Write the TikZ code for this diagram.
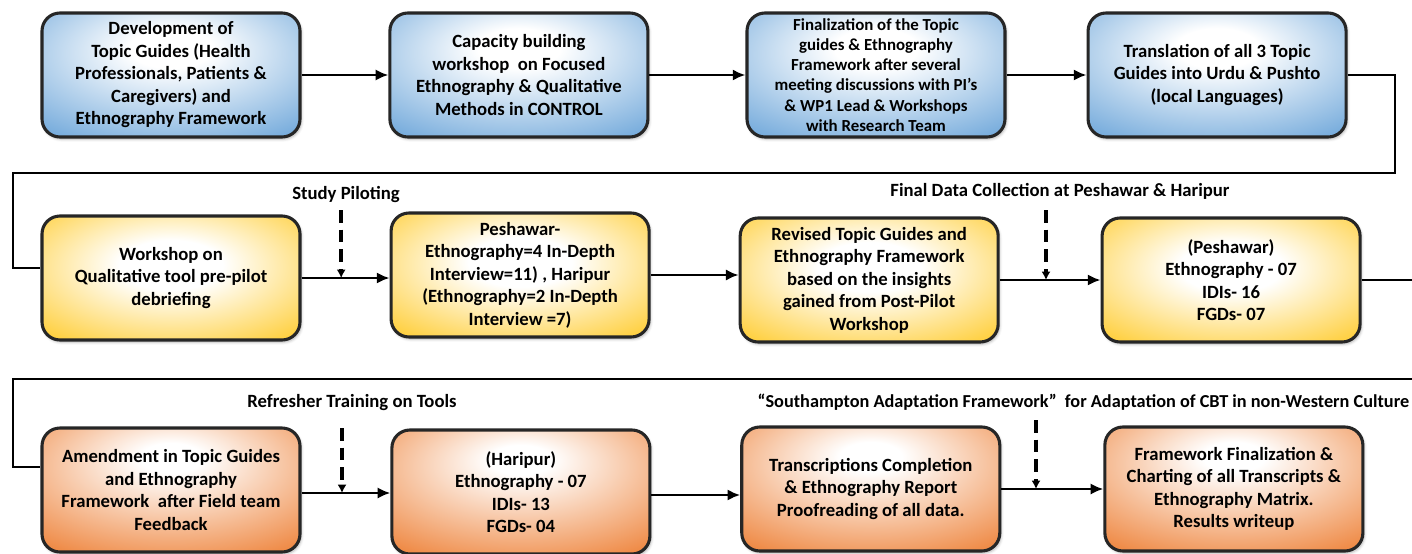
\documentclass[tikz,border=0pt]{standalone}
\usepackage{fontspec}
\setmainfont{Carlito}
\usepackage{tikz}
\usetikzlibrary{arrows.meta, positioning, calc, shadows.blur}
\definecolor{boxblue}{HTML}{5B9BD5}
\definecolor{boxgold}{HTML}{FFC000}
\definecolor{boxorange}{HTML}{ED7D31}
\definecolor{edgegray}{HTML}{262626}
\pgfdeclareradialshading{blueglow}{\pgfpoint{0bp}{12bp}}{color(0bp)=(white); color(8bp)=(white); color(44bp)=(boxblue); color(80bp)=(boxblue)}
\pgfdeclareradialshading{goldglow}{\pgfpoint{0bp}{6bp}}{color(0bp)=(white); color(10bp)=(white); color(44bp)=(boxgold); color(80bp)=(boxgold)}
\pgfdeclareradialshading{orangeglow}{\pgfpoint{0bp}{14bp}}{color(0bp)=(white); color(6bp)=(white); color(42bp)=(boxorange); color(80bp)=(boxorange)}

\begin{document}
\begin{tikzpicture}[
  stepbox/.style={shade, shading=#1, draw=edgegray, line width=2.2pt, rounded corners=0.45cm, minimum width=6.45cm, minimum height=3.1cm, align=center, inner sep=2pt, font=\bfseries\fontsize{13.3}{16}\selectfont, blur shadow={shadow xshift=1pt, shadow yshift=-1.5pt, shadow blur steps=4, shadow opacity=30}},
  link/.style={line width=2pt, color=black},
  arrow/.style={link, -{Latex[length=9pt,width=8pt]}},
  cue/.style={line width=2.6pt, dash pattern=on 9pt off 5pt, -{Latex[length=6pt,width=6.5pt]}},
  note/.style={font=\bfseries\fontsize{13.3}{16}\selectfont, inner sep=1pt}
]
  \useasboundingbox (0,0) rectangle (35.3,-13.825);
  \clip (0,0) rectangle (35.3,-13.825);

  % Row 1 - preparation
  \node[stepbox=blueglow] (dev) at (4.275,-1.875) {Development of\\Topic Guides (Health\\Professionals, Patients \&\\Caregivers) and\\Ethnography Framework};
  \node[stepbox=blueglow, right=2.17cm of dev] (capac) {Capacity building\\workshop\ \ on Focused\\Ethnography \& Qualitative\\Methods in CONTROL};
  \node[stepbox=blueglow, right=2.4cm of capac, font=\bfseries\fontsize{12}{14.4}\selectfont] (final) {Finalization of the Topic\\guides \& Ethnography\\Framework after several\\meeting discussions with PI’s\\\& WP1 Lead \& Workshops\\with Research Team};
  \node[stepbox=blueglow, right=2.0cm of final] (transl) {Translation of all 3 Topic\\Guides into Urdu \& Pushto\\(local Languages)};

  % Row 2 - piloting
  \node[stepbox=goldglow] (prews) at (4.275,-6.95) {Workshop on\\Qualitative tool pre-pilot\\debriefing};
  \node[stepbox=goldglow, right=2.2cm of prews, yshift=0.075cm] (pilot) {Peshawar-\\Ethnography=4 In-Depth\\Interview=11) , Haripur\\(Ethnography=2 In-Depth\\Interview =7)};
  \node[stepbox=goldglow, right=2.2cm of pilot, yshift=-0.125cm] (revised) {Revised Topic Guides and\\Ethnography Framework\\based on the insights\\gained from Post-Pilot\\Workshop};
  \node[stepbox=goldglow, right=2.52cm of revised] (peshawar) {(Peshawar)\\Ethnography - 07\\IDIs- 16\\FGDs- 07};

  % Row 3 - analysis
  \node[stepbox=orangeglow] (amend) at (4.275,-12.25) {Amendment in Topic Guides\\and Ethnography\\Framework\ \ after Field team\\Feedback};
  \node[stepbox=orangeglow, right=2.22cm of amend, yshift=-0.05cm] (haripur) {(Haripur)\\Ethnography - 07\\IDIs- 13\\FGDs- 04};
  \node[stepbox=orangeglow, right=2.22cm of haripur, yshift=0.075cm] (transc) {Transcriptions Completion\\\& Ethnography Report\\Proofreading of all data.};
  \node[stepbox=orangeglow, right=2.55cm of transc] (frame) {Framework Finalization \&\\Charting of all Transcripts \&\\Ethnography Matrix.\\Results writeup};

  % Turns between rows
  \coordinate (turnA) at (34.875,-4.325);
  \coordinate (turnB) at (0.325,-4.325);
  \coordinate (turnC) at (35.6,-9.475);
  \coordinate (turnD) at (0.325,-9.475);

  % Arrows
  \draw[arrow] (dev) -- (capac);
  \draw[arrow] (capac) -- (final);
  \draw[arrow] (final) -- (transl);
  \draw[link] (transl.east) -| (turnA) -- (turnB) |- ([yshift=0.25cm]prews.west);
  \draw[arrow] (prews.east) -- (prews.east -| pilot.west);
  \draw[arrow] (pilot.east) -- (pilot.east -| revised.west);
  \draw[arrow] (revised) -- (peshawar);
  \draw[link] (peshawar.east) -| (turnC) -- (turnD) |- ([yshift=0.575cm]amend.west);
  \draw[arrow] ([yshift=-0.075cm]amend.east) -- ([yshift=-0.075cm]amend.east -| haripur.west);
  \draw[arrow] ([yshift=-0.075cm]haripur.east) -- ([yshift=-0.075cm]haripur.east -| transc.west);
  \draw[arrow] (transc) -- (frame);

  % Labels
  \node[note] (pilotnote) at (8.65,-4.875) {Study Piloting};
  \node[note] (finalnote) at (26.5,-4.775) {Final Data Collection at Peshawar \& Haripur};
  \node[note] (refreshnote) at (8.8,-10.075) {Refresher Training on Tools};
  \node[note, anchor=east, font=\bfseries\fontsize{13}{16}\selectfont] (southnote) at (35.27,-10.05) {“Southampton Adaptation Framework”\ \ for Adaptation of CBT in non-Western Culture};

  % Dashed cues
  \coordinate (pilotcue) at (8.53,-5.25);
  \coordinate (finalcue) at (26.15,-5.25);
  \coordinate (refreshcue) at (8.55,-10.7);
  \coordinate (southcue) at (25.9,-10.5);
  \draw[cue] (pilotcue) -- (pilotcue |- prews.east);
  \draw[cue] (finalcue) -- (finalcue |- revised.east);
  \draw[cue] (refreshcue) -- ([yshift=-0.075cm]refreshcue |- amend.east);
  \draw[cue] (southcue) -- (southcue |- transc.east);
\end{tikzpicture}
\end{document}
